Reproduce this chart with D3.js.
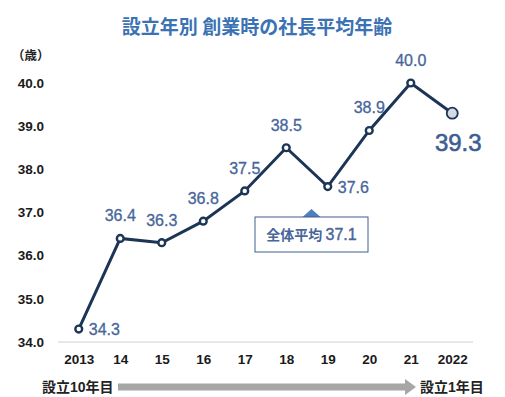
<html>
<head>
<meta charset="utf-8">
<script src="https://cdnjs.cloudflare.com/ajax/libs/d3/7.8.5/d3.min.js"></script>
<style>
  body { margin: 0; background: #fff; }
  text { font-family: "Noto Sans CJK JP", "Liberation Sans", sans-serif; }
</style>
</head>
<body>
<svg id="chart" width="505" height="397"></svg>
<script>
var years = ["2013", "14", "15", "16", "17", "18", "19", "20", "21", "2022"];
var ages = [34.3, 36.4, 36.3, 36.8, 37.5, 38.5, 37.6, 38.9, 40.0, 39.3];
var yTicks = [34, 35, 36, 37, 38, 39, 40];
// where each value label sits relative to its point
var labelPos = ["right", "above", "above", "above", "above", "above", "right", "above", "above", "big"];
var average = 37.1;

var svg = d3.select("#chart");
var numFont = "'Liberation Sans', Arial, sans-serif";

var x = d3.scalePoint().domain(years).range([58, 473]).padding(0.5);
var y = d3.scaleLinear().domain([34, 40]).range([342, 83]);

// title
svg.append("text")
    .attr("x", 257).attr("y", 34)
    .attr("text-anchor", "middle")
    .style("font-size", "19px").style("font-weight", "bold")
    .style("fill", "#3b72b4")
    .text("設立年別 創業時の社長平均年齢");

svg.append("text")
    .attr("x", 12).attr("y", 60)
    .style("font-size", "12.5px").style("font-weight", "bold")
    .style("fill", "#222")
    .text("（歳）");

// y axis labels
var yAxis = d3.axisLeft(y).tickValues(yTicks).tickFormat(d3.format(".1f")).tickSize(0).tickPadding(0);
var gy = svg.append("g").attr("transform", "translate(44,0)").call(yAxis);
gy.select(".domain").remove();
gy.selectAll("text")
    .style("font-family", numFont).style("font-size", "13.5px").style("font-weight", "bold")
    .style("fill", "#1a1a1a");

// x axis
var xAxis = d3.axisBottom(x).tickSize(0).tickPadding(12);
var gx = svg.append("g").attr("transform", "translate(0,342)").call(xAxis);
gx.select(".domain").attr("stroke", "#d0d0d0").attr("d", "M58,0H473");
gx.selectAll("text")
    .style("font-family", numFont).style("font-size", "13.5px").style("font-weight", "bold")
    .style("fill", "#1a1a1a");

// line
var line = d3.line().x(function(d, i) { return x(years[i]); }).y(function(d) { return y(d); });
svg.append("path").datum(ages)
    .attr("d", line)
    .attr("fill", "none").attr("stroke", "#1c3557").attr("stroke-width", 3);

// markers
svg.selectAll("circle.pt").data(ages).enter().append("circle")
    .attr("class", "pt")
    .attr("cx", function(d, i) { return x(years[i]); })
    .attr("cy", function(d) { return y(d); })
    .attr("r", function(d, i) { return i === ages.length - 1 ? 5.5 : 3.4; })
    .attr("fill", function(d, i) { return i === ages.length - 1 ? "#d5dbe5" : "#fff"; })
    .attr("stroke", "#1c3557")
    .attr("stroke-width", function(d, i) { return i === ages.length - 1 ? 1.8 : 2.4; });

// value labels
svg.selectAll("text.val").data(ages).enter().append("text")
    .attr("class", "val")
    .attr("x", function(d, i) {
        var p = labelPos[i];
        if (p === "right") return x(years[i]) + 10;
        if (p === "big") return x(years[i]) + 6;
        return x(years[i]);
    })
    .attr("y", function(d, i) {
        var p = labelPos[i];
        if (p === "right") return y(d) + 6;
        if (p === "big") return y(d) + 38;
        return y(d) - 17;
    })
    .attr("text-anchor", function(d, i) {
        var p = labelPos[i];
        return p === "right" ? "start" : "middle";
    })
    .style("font-family", numFont)
    .style("font-size", function(d, i) { return labelPos[i] === "big" ? "24px" : "16px"; })
    .style("fill", function(d, i) { return labelPos[i] === "big" ? "#3d5f92" : "#47669a"; })
    .style("stroke", function(d, i) { return labelPos[i] === "big" ? "#3d5f92" : "#47669a"; })
    .style("stroke-width", function(d, i) { return labelPos[i] === "big" ? 0.6 : 0.3; })
    .text(function(d) { return d.toFixed(1); });

// average callout
var bx = 255, by = 217, bw = 113, bh = 35;
var cx = bx + bw / 2;
svg.append("path")
    .attr("d", "M" + (cx - 9) + "," + by + "L" + cx + "," + (by - 8) + "L" + (cx + 9) + "," + by + "Z")
    .attr("fill", "#4f7fbe");
svg.append("rect")
    .attr("x", bx).attr("y", by).attr("width", bw).attr("height", bh)
    .attr("fill", "#fff").attr("stroke", "#3c5f8e").attr("stroke-width", 1);
var avgText = svg.append("text")
    .attr("x", cx).attr("y", by + 23)
    .attr("text-anchor", "middle")
    .style("font-size", "14px").style("font-weight", "bold")
    .style("fill", "#47669a");
avgText.append("tspan").text("全体平均 ");
avgText.append("tspan").style("font-family", numFont).style("font-size", "16px")
    .style("font-weight", "normal")
    .style("stroke", "#47669a").style("stroke-width", 0.4)
    .text(average.toFixed(1));

// bottom arrow
svg.append("path")
    .attr("d", "M118,383.5H405V379L416,387L405,395V390.5H118Z")
    .attr("fill", "#a6a6a6");

function stageLabel(xPos, n) {
    var t = svg.append("text")
        .attr("x", xPos).attr("y", 392)
        .style("font-size", "14px").style("font-weight", "bold").style("fill", "#222");
    t.append("tspan").text("設立");
    t.append("tspan").style("font-family", numFont).text(n);
    t.append("tspan").text("年目");
}
stageLabel(42, "10");
stageLabel(420, "1");
</script>
</body>
</html>
